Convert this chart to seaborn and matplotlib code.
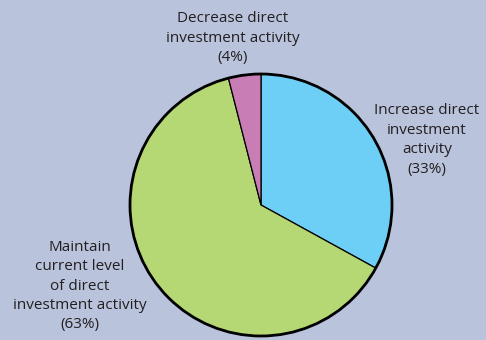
import matplotlib
matplotlib.use("Agg")
import matplotlib.pyplot as plt
from matplotlib.patches import Circle
import seaborn as sns

# Survey shares of planned direct investment activity
categories = ["Increase direct\ninvestment\nactivity",
              "Maintain\ncurrent level\nof direct\ninvestment activity",
              "Decrease direct\ninvestment activity"]
shares = [33, 63, 4]
colors = ["#6dcff6", "#b5d774", "#c87db5"]

sns.set_theme(style="white")
plt.rcParams["font.family"] = ["Open Sans", "DejaVu Sans"]

bg = "#b9c3dc"
fig = plt.figure(figsize=(4.86, 3.40), dpi=100, facecolor=bg)
ax = fig.add_axes([0, 0, 1, 1])
ax.set_facecolor(bg)

cx, cy, r = 261, 135, 131
ax.pie(shares, colors=colors, startangle=90, counterclock=False,
       center=(cx, cy), radius=r, frame=True,
       wedgeprops=dict(edgecolor="black", linewidth=0.9))
ax.add_patch(Circle((cx, cy), r, fill=False, edgecolor="black", linewidth=2.0, zorder=5))
ax.set_xlim(0, 486)
ax.set_ylim(0, 340)
ax.set_aspect("equal")
ax.axis("off")

label_pos = [(427, 200), (80, 54), (233, 302)]
for name, val, (x, y) in zip(categories, shares, label_pos):
    ax.text(x, y, f"{name}\n({val}%)", ha="center", va="center",
            fontsize=11, color="#231f20", linespacing=1.4)

fig.savefig("out.png", dpi=100, facecolor=bg)
